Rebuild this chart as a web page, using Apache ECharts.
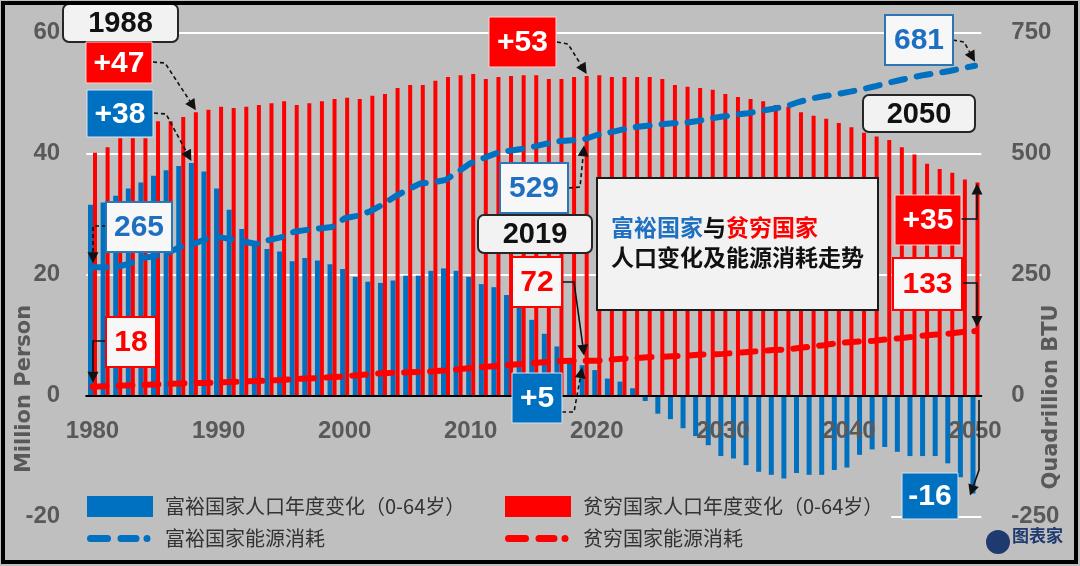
<!DOCTYPE html>
<html>
<head>
<meta charset="utf-8">
<script src="https://cdn.jsdelivr.net/npm/echarts@6/dist/echarts.min.js"></script>
<style>
  html, body { margin: 0; padding: 0; background: #bfbfbf; }
  #chart { width: 1080px; height: 566px; }
</style>
</head>
<body>
<div id="chart"></div>
<script>
// ---- data ----
const years = ['1980','1981','1982','1983','1984','1985','1986','1987','1988','1989',
  '1990','1991','1992','1993','1994','1995','1996','1997','1998','1999',
  '2000','2001','2002','2003','2004','2005','2006','2007','2008','2009',
  '2010','2011','2012','2013','2014','2015','2016','2017','2018','2019',
  '2020','2021','2022','2023','2024','2025','2026','2027','2028','2029',
  '2030','2031','2032','2033','2034','2035','2036','2037','2038','2039',
  '2040','2041','2042','2043','2044','2045','2046','2047','2048','2049','2050'];

// 富裕国家人口年度变化（0-64岁）, million persons
const richPop = [31.5, 31.9, 33.0, 34.2, 35.2, 36.3, 37.2, 37.9, 38.4, 37.0,
  34.2, 30.7, 27.5, 25.0, 24.2, 23.8, 22.2, 22.7, 22.3, 21.7,
  20.9, 19.6, 18.8, 18.6, 19.0, 19.8, 19.8, 20.6, 21.0, 20.6,
  19.6, 18.4, 17.9, 16.6, 14.7, 12.5, 10.2, 8.1, 6.1, 5.0,
  4.2, 2.8, 2.3, 1.2, -0.9, -3.0, -3.9, -5.4, -6.7, -8.2,
  -10.0, -10.4, -11.5, -12.6, -13.1, -13.7, -12.8, -13.1, -13.1, -12.3,
  -11.9, -9.8, -8.9, -8.5, -9.3, -10.0, -10.0, -10.0, -11.2, -13.5, -16.2];

// 贫穷国家人口年度变化（0-64岁）, million persons
const poorPop = [40.1, 41.0, 42.5, 42.5, 42.5, 45.3, 45.3, 46.0, 46.8, 47.2,
  47.7, 47.5, 47.7, 48.0, 48.3, 48.6, 48.0, 48.3, 48.6, 49.0,
  49.2, 49.0, 49.5, 49.8, 50.8, 51.3, 51.3, 52.0, 52.6, 52.9,
  53.1, 52.3, 52.6, 52.8, 52.9, 52.9, 52.3, 52.3, 52.6, 52.8,
  52.9, 52.6, 52.6, 52.6, 52.6, 52.3, 51.3, 51.0, 50.8, 50.5,
  49.8, 49.3, 49.0, 48.6, 48.0, 47.7, 46.8, 46.2, 45.7, 45.0,
  44.3, 43.4, 42.8, 42.2, 41.0, 39.8, 38.3, 37.4, 36.8, 35.7, 35.2];

// 富裕国家能源消耗, quadrillion BTU
const richEnergy = [265, 265, 266, 273, 284, 288, 295, 307, 313, 323,
  327, 323, 318, 313, 321, 327, 338, 342, 345, 348,
  366, 371, 380, 394, 411, 425, 438, 440, 445, 462,
  480, 490, 500, 505, 509, 514, 520, 525, 527, 529,
  538, 543, 549, 554, 557, 560, 562, 563, 567, 572,
  576, 580, 583, 588, 592, 597, 606, 613, 618, 622,
  627, 632, 638, 645, 651, 657, 662, 666, 670, 676, 681];

// 贫穷国家能源消耗, quadrillion BTU
const poorEnergy = [18, 19, 20, 21, 22, 23, 24, 25, 26, 26,
  27, 28, 29, 30, 31, 32, 34, 35, 36, 38,
  39, 42, 44, 46, 47, 48, 49, 50, 52, 54,
  57, 59, 61, 63, 65, 67, 69, 71, 72, 72,
  72, 74, 76, 77, 79, 80, 81, 82, 84, 85,
  86, 88, 90, 92, 94, 95, 98, 101, 104, 108,
  110, 112, 113, 116, 118, 121, 124, 126, 128, 131, 133];

const leftTicks = { min: -20, max: 60, interval: 20 };
const rightTicks = { min: -250, max: 750, interval: 250 };

const seriesNames = ['富裕国家人口年度变化（0-64岁）', '富裕国家能源消耗',
                     '贫穷国家人口年度变化（0-64岁）', '贫穷国家能源消耗'];

// ---- chart ----
const BLUE = '#0070c0', RED = '#ff0000', GRAY = '#595959';
const GRID = { left: 86.2, right: 98.7, top: 32.3, bottom: 49.4 };
const gridH = 566 - GRID.top - GRID.bottom;
// move the category axis up to the value 0 of the left axis
const zeroOffset = -gridH * (0 - leftTicks.min) / (leftTicks.max - leftTicks.min);

// dashed legend icon for the energy lines: two dashes and a dot
const dashIcon = 'path://M0 0M66 21M3.5 7h17a3.5 3.5 0 0 1 0 7h-17a3.5 3.5 0 0 1 0-7zM34 7h15a3.5 3.5 0 0 1 0 7h-15a3.5 3.5 0 0 1 0-7zM60 7a3.5 3.5 0 0 1 0 7a3.5 3.5 0 0 1 0-7z';

const chart = echarts.init(document.getElementById('chart'), null, { renderer: 'canvas' });

const legendText = { fontSize: 20, color: '#333', fontFamily: 'Noto Sans CJK SC', padding: [0, 0, 0, 7] };
const option = {
  animation: false,
  backgroundColor: '#bfbfbf',
  grid: GRID,
  legend: [
    {
      data: [{ name: seriesNames[0], icon: 'rect' }, { name: seriesNames[1], icon: dashIcon }],
      orient: 'vertical', left: 85, top: 496,
      itemWidth: 66, itemHeight: 21, itemGap: 11,
      backgroundColor: '#bfbfbf', padding: [0, 40, 0, 2],
      textStyle: legendText
    },
    {
      data: [{ name: seriesNames[2], icon: 'rect' }, { name: seriesNames[3], icon: dashIcon }],
      orient: 'vertical', left: 503, top: 496,
      itemWidth: 66, itemHeight: 21, itemGap: 11,
      backgroundColor: '#bfbfbf', padding: [0, 8, 0, 2],
      textStyle: legendText
    }
  ],
  xAxis: {
    type: 'category', data: years, boundaryGap: true, z: 5,
    offset: zeroOffset,
    axisLine: { onZero: false, lineStyle: { color: '#000', width: 2 } },
    axisTick: { show: false },
    axisLabel: {
      interval: function (i) { return i % 10 === 0; },
      margin: 24, fontSize: 24, fontWeight: 'bold', color: GRAY, fontFamily: 'Liberation Sans'
    },
    splitLine: { show: false }
  },
  yAxis: [
    {
      type: 'value', min: leftTicks.min, max: leftTicks.max, interval: leftTicks.interval,
      axisLine: { show: false }, axisTick: { show: false },
      axisLabel: { margin: 26, fontSize: 24, fontWeight: 'bold', color: GRAY, fontFamily: 'Liberation Sans' },
      splitLine: { show: true, lineStyle: { color: '#ffffff', width: 2 } }
    },
    {
      type: 'value', min: rightTicks.min, max: rightTicks.max, interval: rightTicks.interval,
      axisLine: { show: false }, axisTick: { show: false },
      axisLabel: { margin: 30, fontSize: 24, fontWeight: 'bold', color: GRAY, fontFamily: 'Liberation Sans' },
      splitLine: { show: false }
    }
  ],
  series: [
    { name: seriesNames[0], type: 'bar', data: richPop, barWidth: 5, barGap: '0%',
      itemStyle: { color: BLUE }, z: 2 },
    { name: seriesNames[2], type: 'bar', data: poorPop, barWidth: 4, barGap: '0%',
      itemStyle: { color: RED }, z: 2 },
    { name: seriesNames[1], type: 'line', yAxisIndex: 1, data: richEnergy, symbol: 'none',
      lineStyle: { color: BLUE, width: 6, type: [14, 12], cap: 'round' }, itemStyle: { color: BLUE }, z: 4 },
    { name: seriesNames[3], type: 'line', yAxisIndex: 1, data: poorEnergy, symbol: 'none',
      lineStyle: { color: RED, width: 6, type: [14, 12], cap: 'round' }, itemStyle: { color: RED }, z: 4 }
  ]
};
chart.setOption(option);

// ---- annotations ----
function px(idx, val, axis) {
  return chart.convertToPixel({ xAxisIndex: 0, yAxisIndex: axis }, [idx, val]);
}
const NUMFONT = 'Liberation Sans';
function box(x, y, w, h, text, opt) {
  return [
    { type: 'rect', z: 20, shape: { x: x, y: y, width: w, height: h, r: opt.r || 0 },
      style: { fill: opt.fill, stroke: opt.stroke, lineWidth: opt.lw || 1.5 } },
    { type: 'text', z: 21, x: x + w / 2, y: y + h / 2 + 1,
      style: { text: text, fill: opt.color, font: 'bold ' + (opt.size || 30) + 'px "' + NUMFONT + '"',
               textAlign: 'center', textVerticalAlign: 'middle' } }
  ];
}
function arrow(points, dashed) {
  const n = points.length;
  const a = points[n - 2], b = points[n - 1];
  const dx = b[0] - a[0], dy = b[1] - a[1];
  const L = Math.sqrt(dx * dx + dy * dy) || 1;
  const ux = dx / L, uy = dy / L;
  const hl = 11, hw = 5.5;
  const base = [b[0] - ux * hl, b[1] - uy * hl];
  const pts = points.slice(0, n - 1).concat([base]);
  return [
    { type: 'polyline', z: 19, shape: { points: pts },
      style: { stroke: '#111', lineWidth: 1.6, fill: null, lineDash: dashed ? [4, 3] : null } },
    { type: 'polygon', z: 19, shape: { points: [b, [base[0] - uy * hw, base[1] + ux * hw], [base[0] + uy * hw, base[1] - ux * hw]] },
      style: { fill: '#111' } }
  ];
}

const i1980 = 0, i1988 = 8, i2019 = 39, i2050 = 70;
const redOff = 2.5, blueOff = -2;
const g = [];
const yearBox = { fill: '#f2f2f2', stroke: '#262626', color: '#111', r: 6, lw: 2, size: 29 };
const redBox = { fill: RED, stroke: '#ffd0d0', color: '#fff', lw: 1 };
const blueBox = { fill: BLUE, stroke: '#d0e4f5', color: '#fff', lw: 1 };
const wBlue = { fill: '#f7f7f7', stroke: '#2e75b6', color: '#1f6fc0', lw: 2 };
const wRed = { fill: '#f7f7f7', stroke: RED, color: RED, lw: 2 };

// 1988
let p = px(i1988, poorPop[i1988], 0);
g.push(...arrow([[153, 62], [165, 63], [p[0] + redOff, p[1] - 2]], true));
p = px(i1988, richPop[i1988], 0);
g.push(...arrow([[154, 113], [166, 114], [p[0] + blueOff, p[1] - 2]], true));
g.push(...box(63, 4, 115, 38, '1988', yearBox));
g.push(...box(86, 42, 66, 41, '+47', redBox));
g.push(...box(87, 90, 66, 47, '+38', blueBox));

// 1980
p = px(i1980, richEnergy[i1980], 1);
g.push(...arrow([[106, 226], [93, 226], [93, p[1] - 4]], true));
g.push(...box(106, 202, 66, 50, '265', wBlue));
p = px(i1980, poorEnergy[i1980], 1);
g.push(...arrow([[106, 341], [93, 341], [93, p[1] - 4]], false));
g.push(...box(106, 317, 50, 50, '18', wRed));

// 2019
p = px(i2019, poorPop[i2019], 0);
g.push(...arrow([[557, 42], [568, 44], [p[0] + redOff, p[1] - 2]], true));
g.push(...box(489, 17, 67, 50, '+53', redBox));
p = px(i2019, richEnergy[i2019], 1);
g.push(...arrow([[569, 188], [580, 187], [p[0], p[1] + 6]], true));
g.push(...box(500, 163, 68, 50, '529', wBlue));
g.push(...box(478, 215, 114, 38, '2019', yearBox));
p = px(i2019, poorEnergy[i2019], 1);
g.push(...arrow([[563, 282], [574, 282], [p[0], p[1] - 5]], false));
g.push(...box(512, 257, 50, 50, '72', wRed));
p = px(i2019, richPop[i2019], 0);
g.push(...arrow([[562, 412], [574, 412], [p[0] + blueOff, p[1] + 2]], true));
g.push(...box(512, 373, 50, 50, '+5', blueBox));

// 2050
p = px(i2050, richEnergy[i2050], 1);
g.push(...arrow([[953, 40], [964, 42], [p[0], p[1] - 4]], true));
g.push(...box(885, 15, 68, 50, '681', wBlue));
g.push(...box(863, 95, 112, 37, '2050', yearBox));
p = px(i2050, poorPop[i2050], 0);
g.push(...arrow([[961, 219], [977, 219], [977, p[1] + 1]], false));
g.push(...box(895, 195, 66, 50, '+35', redBox));
p = px(i2050, poorEnergy[i2050], 1);
g.push(...arrow([[962, 283], [977, 283], [977, p[1] - 4]], false));
g.push(...box(893, 258, 69, 52, '133', wRed));
p = px(i2050, richPop[i2050], 0);
g.push(...arrow([[979, 400], [979, 470], [970, p[1] + 2]], false));
g.push(...box(902, 473, 56, 46, '-16', blueBox));

// title box
g.push({ type: 'rect', z: 20, shape: { x: 597, y: 178, width: 281, height: 132 },
  style: { fill: '#f2f2f2', stroke: '#1a1a1a', lineWidth: 2 } });
g.push({ type: 'text', z: 21, x: 611, y: 227,
  style: { text: '{b|富裕国家}{k|与}{r|贫穷国家}', textVerticalAlign: 'middle',
    rich: {
      b: { fill: '#1f70c1', font: 'bold 23px "Noto Sans CJK SC"' },
      k: { fill: '#111', font: 'bold 23px "Noto Sans CJK SC"' },
      r: { fill: RED, font: 'bold 23px "Noto Sans CJK SC"' }
    } } });
g.push({ type: 'text', z: 21, x: 611, y: 257,
  style: { text: '人口变化及能源消耗走势', fill: '#111', font: 'bold 23px "Noto Sans CJK SC"', textVerticalAlign: 'middle' } });

// axis names
g.push({ type: 'text', z: 10, x: 25, y: 389, rotation: Math.PI / 2,
  style: { text: 'Million Person', fill: GRAY, font: 'bold 21px "DejaVu Sans"', textAlign: 'center', textVerticalAlign: 'middle' } });
g.push({ type: 'text', z: 10, x: 1052, y: 397, rotation: Math.PI / 2,
  style: { text: 'Quadrillion BTU', fill: GRAY, font: 'bold 21px "DejaVu Sans"', textAlign: 'center', textVerticalAlign: 'middle' } });

// logo
g.push({ type: 'circle', z: 10, shape: { cx: 998, cy: 542, r: 12 }, style: { fill: '#1f3a6e' } });
g.push({ type: 'text', z: 10, x: 1012, y: 536,
  style: { text: '图表家', fill: '#1f3a6e', font: 'bold 17px "Noto Sans CJK SC"', textVerticalAlign: 'middle' } });

// outer frame
g.push({ type: 'rect', z: 30, shape: { x: 3, y: 3, width: 1073, height: 559 },
  style: { fill: null, stroke: '#000', lineWidth: 4 } });

chart.setOption({ graphic: g });
</script>
</body>
</html>
